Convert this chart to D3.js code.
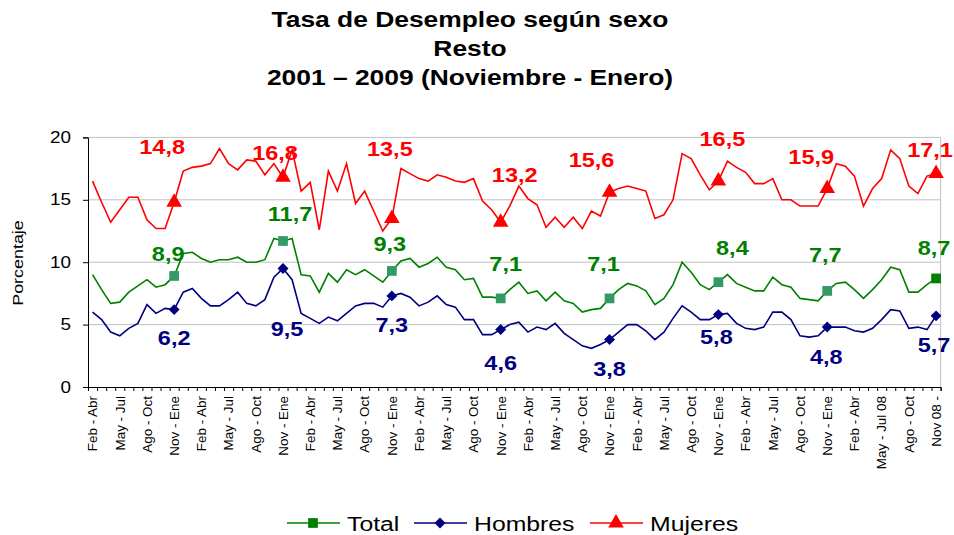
<!DOCTYPE html>
<meta charset="utf-8">
<script src="https://d3js.org/d3.v7.min.js"></script>
<style>
  body { margin: 0; background: #fff; }
  text { font-family: "Liberation Sans", Arial, sans-serif; }
</style>
<body>
<div id="chart"></div>
<script>
// x tick labels (one every three moving quarters)
var tickLabels = [
  'Feb - Abr','May - Jul','Ago - Oct','Nov - Ene',
  'Feb - Abr','May - Jul','Ago - Oct','Nov - Ene',
  'Feb - Abr','May - Jul','Ago - Oct','Nov - Ene',
  'Feb - Abr','May - Jul','Ago - Oct','Nov - Ene',
  'Feb - Abr','May - Jul','Ago - Oct','Nov - Ene',
  'Feb - Abr','May - Jul','Ago - Oct','Nov - Ene',
  'Feb - Abr','May - Jul','Ago - Oct','Nov - Ene',
  'Feb - Abr','May - Jul 08','Ago - Oct','Nov 08 -'
];

var total = [
  9.0, 7.8, 6.7, 6.8, 7.6, 8.1, 8.6, 8.0, 8.2, 8.9,
  10.7, 10.8, 10.3, 10.0, 10.2, 10.2, 10.4, 10.0, 10.0, 10.2,
  11.9, 11.7, 11.9, 9.0, 8.9, 7.6, 9.1, 8.4, 9.4, 9.0,
  9.4, 8.9, 8.4, 9.3, 10.1, 10.3, 9.6, 9.9, 10.4, 9.6,
  9.4, 8.6, 8.7, 7.2, 7.2, 7.1, 7.8, 8.4, 7.5, 7.7,
  6.9, 7.6, 6.9, 6.7, 6.0, 6.2, 6.3, 7.1, 7.8, 8.3,
  8.1, 7.7, 6.6, 7.1, 8.2, 10.0, 9.2, 8.2, 7.8, 8.4,
  9.0, 8.3, 8.0, 7.7, 7.7, 8.8, 8.2, 8.0, 7.1, 7.0,
  6.9, 7.7, 8.3, 8.4, 7.8, 7.1, 7.8, 8.6, 9.6, 9.4,
  7.6, 7.6, 8.2, 8.7
];

var hombres = [
  6.0, 5.4, 4.4, 4.1, 4.7, 5.1, 6.6, 5.9, 6.3, 6.2,
  7.6, 7.9, 7.1, 6.5, 6.5, 7.0, 7.6, 6.7, 6.5, 7.0,
  8.8, 9.5, 8.6, 5.9, 5.5, 5.1, 5.6, 5.3, 5.9, 6.5,
  6.7, 6.7, 6.4, 7.3, 7.5, 7.2, 6.5, 6.8, 7.3, 6.6,
  6.4, 5.4, 5.4, 4.2, 4.2, 4.6, 5.0, 5.2, 4.4, 4.8,
  4.6, 5.1, 4.3, 3.8, 3.3, 3.1, 3.4, 3.8, 4.4, 5.0,
  5.0, 4.5, 3.8, 4.4, 5.5, 6.5, 6.0, 5.4, 5.4, 5.8,
  5.9, 5.1, 4.7, 4.6, 4.8, 6.0, 6.0, 5.4, 4.1, 4.0,
  4.1, 4.8, 4.8, 4.8, 4.5, 4.4, 4.7, 5.4, 6.2, 6.1,
  4.7, 4.8, 4.6, 5.7
];

var mujeres = [
  16.5, 14.8, 13.2, 14.2, 15.2, 15.2, 13.4, 12.7, 12.7, 14.8,
  17.3, 17.6, 17.7, 17.9, 19.1, 17.9, 17.4, 18.2, 18.1, 17.0,
  17.9, 16.8, 19.0, 15.7, 16.4, 12.6, 17.3, 15.7, 17.9, 14.7,
  15.7, 14.1, 12.5, 13.5, 17.5, 17.1, 16.7, 16.5, 17.0, 16.8,
  16.5, 16.4, 16.7, 14.9, 14.2, 13.2, 14.5, 16.1, 15.1, 14.6,
  12.8, 13.6, 12.8, 13.6, 12.7, 14.1, 13.7, 15.6, 15.9, 16.1,
  15.9, 15.7, 13.5, 13.8, 15.0, 18.7, 18.3, 17.0, 15.8, 16.5,
  18.1, 17.6, 17.2, 16.3, 16.3, 16.7, 15.0, 15.0, 14.5, 14.5,
  14.5, 15.9, 17.9, 17.7, 16.9, 14.5, 15.9, 16.7, 19.0, 18.3,
  16.1, 15.5, 16.9, 17.1
];

// points that carry a marker and a value label (Nov - Ene of each year)
var markedIdx = [9, 21, 33, 45, 57, 69, 81, 93];

var W = 954, H = 535;
var svg = d3.select('#chart').append('svg')
  .attr('width', W).attr('height', H);

var n = total.length;
var x = d3.scaleBand().domain(d3.range(n)).range([88, 940.6]).padding(0);
var xEdge = d3.scaleLinear().domain([0, n]).range([88, 940.6]);
var y = d3.scaleLinear().domain([0, 20]).range([387, 137.4]);
function cx(i) { return x(i) + x.bandwidth() / 2; }

// title
var titleLines = ['Tasa de Desempleo según sexo', 'Resto', '2001 – 2009 (Noviembre - Enero)'];
svg.selectAll('.title').data(titleLines).enter().append('text')
  .attr('class', 'title')
  .attr('transform', function(d, i) { return 'translate(470,' + (27 + i * 29) + ') scale(1.2,1)'; })
  .attr('text-anchor', 'middle')
  .attr('font-size', 22).attr('font-weight', 'bold')
  .text(function(d) { return d; });

// gridlines
svg.append('g').selectAll('line').data([5, 10, 15, 20]).enter().append('line')
  .attr('x1', 88).attr('x2', 940.6)
  .attr('y1', function(d) { return y(d); }).attr('y2', function(d) { return y(d); })
  .attr('stroke', '#c0c0c0').attr('stroke-width', 1);
svg.append('line')
  .attr('x1', 940.6).attr('x2', 940.6).attr('y1', y(20)).attr('y2', y(0))
  .attr('stroke', '#c0c0c0');

// y axis
var yAxis = svg.append('g').attr('transform', 'translate(88,0)')
  .call(d3.axisLeft(y).tickValues([0, 5, 10, 15, 20]).tickSize(5).tickPadding(12));
yAxis.select('.domain').attr('stroke', '#000');
yAxis.selectAll('text').attr('font-size', 16).attr('font-family', '"Liberation Sans", Arial, sans-serif')
  .attr('transform', 'scale(1.18,1)');
yAxis.selectAll('.tick text').attr('x', -17 / 1.18);

// y title
svg.append('text')
  .attr('transform', 'translate(23,263) rotate(-90) scale(1.28,1)')
  .attr('text-anchor', 'middle').attr('font-size', 14)
  .text('Porcentaje');

// x axis (ticks at category boundaries)
var xAxis = svg.append('g').attr('transform', 'translate(0,' + y(0) + ')')
  .call(d3.axisBottom(xEdge).tickValues(d3.range(n + 1)).tickSize(4).tickFormat(''));
xAxis.select('.domain').attr('stroke', '#000');

svg.append('g').selectAll('text').data(tickLabels).enter().append('text')
  .attr('transform', function(d, k) { return 'translate(' + (cx(k * 3) + 0.5) + ',396) rotate(-90) scale(1.12,1)'; })
  .attr('text-anchor', 'end').attr('dy', '0.36em')
  .attr('font-size', 12)
  .text(function(d) { return d; });

// series (diamond = square turned 45 degrees, like Excel)
var series = [
  { name: 'Total', values: total, color: '#008000', marker: '#339966', symbol: d3.symbolSquare, size: 95, rot: 0 },
  { name: 'Hombres', values: hombres, color: '#000080', marker: '#000080', symbol: d3.symbolSquare, size: 60, rot: 45 },
  { name: 'Mujeres', values: mujeres, color: '#ff0000', marker: '#ff0000', symbol: d3.symbolTriangle, size: 105, rot: 0 }
];

var line = d3.line().x(function(d, i) { return cx(i); }).y(function(d) { return y(d); });

series.forEach(function(s) {
  svg.append('path').datum(s.values)
    .attr('d', line).attr('fill', 'none')
    .attr('stroke', s.color).attr('stroke-width', 1.6);
  svg.append('g').selectAll('path').data(markedIdx).enter().append('path')
    .attr('transform', function(i) { return 'translate(' + cx(i) + ',' + y(s.values[i]) + ') rotate(' + s.rot + ')'; })
    .attr('d', d3.symbol().type(s.symbol).size(s.size))
    .attr('fill', function(i, k) { return (s.name === 'Total' && k === markedIdx.length - 1) ? '#008000' : s.marker; });
});

// value labels, nudged like the original
var labelNudge = {
  Mujeres: [[-12,-56],[-8,-25],[-2,-70],[14,-48],[-18,-33],[4,-43],[-16,-32],[-6,-24]],
  Total:   [[-6,-22],[7,-28],[-2,-28],[5,-35],[-6,-35],[14,-35],[-2,-36],[-2,-31]],
  Hombres: [[0,28],[4,60],[0,29],[0,33],[0,29],[-2,22],[-1,29],[-2,29]]
};
series.forEach(function(s) {
  svg.append('g').selectAll('text').data(markedIdx).enter().append('text')
    .attr('transform', function(i, k) {
      var o = labelNudge[s.name][k];
      return 'translate(' + (cx(i) + o[0]) + ',' + (y(s.values[i]) + o[1]) + ') scale(1.12,1)';
    })
    .attr('text-anchor', 'middle').attr('dy', '0.36em')
    .attr('font-size', 21).attr('font-weight', 'bold')
    .attr('fill', s.color)
    .text(function(i) { return d3.format('.1f')(s.values[i]).replace('.', ','); });
});

// legend
var legX = [287, 414, 590];
var leg = svg.append('g').selectAll('g').data(series).enter().append('g')
  .attr('transform', function(d, i) { return 'translate(' + legX[i] + ',523)'; });
leg.append('line').attr('x1', 0).attr('x2', 53)
  .attr('stroke', function(d) { return d.color; }).attr('stroke-width', 1.6);
leg.append('path')
  .attr('transform', function(d) { return 'translate(26,0) rotate(' + d.rot + ')'; })
  .attr('d', function(d) { return d3.symbol().type(d.symbol).size(d.size)(); })
  .attr('fill', function(d) { return d.name === 'Total' ? '#008000' : d.marker; });
leg.append('text')
  .attr('transform', 'translate(60,0) scale(1.18,1)')
  .attr('dy', '0.36em').attr('font-size', 21)
  .text(function(d) { return d.name; });
</script>
</body>
